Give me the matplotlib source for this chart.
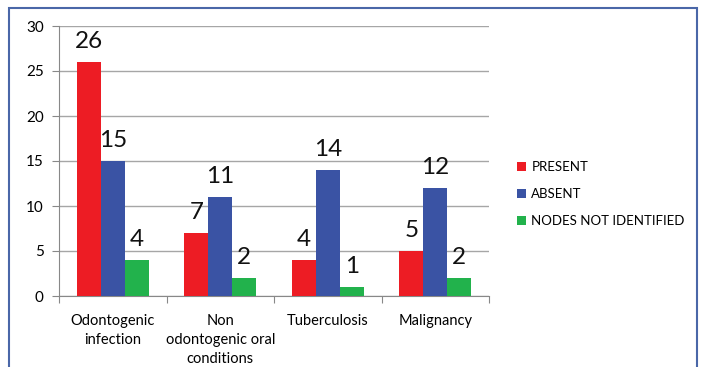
import numpy as np
import matplotlib.pyplot as plt
from matplotlib.patches import Rectangle

categories = ["Odontogenic\ninfection", "Non\nodontogenic oral\nconditions",
              "Tuberculosis", "Malignancy"]
present = [26, 7, 4, 5]
absent = [15, 11, 14, 12]
not_identified = [4, 2, 1, 2]

series = [("PRESENT", present, "#ED1C24"),
          ("ABSENT", absent, "#3A53A4"),
          ("NODES NOT IDENTIFIED", not_identified, "#22B24C")]

plt.rcParams['font.family'] = ['Lato', 'DejaVu Sans']

fig = plt.figure(figsize=(7.02, 3.67), dpi=100)
ax = fig.add_axes([59 / 702, 1 - 296 / 367, 430 / 702, 270 / 367])

x = np.arange(len(categories))
w = 0.223
for i, (name, vals, col) in enumerate(series):
    pos = x + (i - 1) * w
    bars = ax.bar(pos, vals, w, color=col, label=name, zorder=3)
    for b, v in zip(bars, vals):
        ax.annotate(str(v), (b.get_x() + b.get_width() / 2, v),
                    xytext=(0, 7), textcoords="offset points",
                    ha="center", va="bottom", fontsize=17.5, color="#111111")

ax.set_xlim(-0.5, len(categories) - 0.5)
ax.set_ylim(0, 30)
ax.set_yticks(range(0, 31, 5))
ax.yaxis.grid(True, color="#A6A6A6", linewidth=1, zorder=0)
ax.tick_params(axis="y", labelsize=11, color="#888888", length=5, pad=6)

ax.set_xticks(np.arange(-0.5, len(categories), 1))
ax.set_xticklabels([])
ax.set_xticks(x, minor=True)
ax.set_xticklabels(categories, minor=True, fontsize=10.5, linespacing=1.45)
ax.tick_params(axis="x", which="major", color="#888888", length=5)
ax.tick_params(axis="x", which="minor", length=0, pad=13)

for s in ["top", "right"]:
    ax.spines[s].set_visible(False)
for s in ["left", "bottom"]:
    ax.spines[s].set_color("#888888")

handles, labels = ax.get_legend_handles_labels()
fig.legend(handles, labels, loc="center left", bbox_to_anchor=(505 / 702, 1 - 194 / 367),
           frameon=False, fontsize=9.5, handlelength=0.7, handleheight=0.7,
           handletextpad=0.4, labelspacing=1.15)

fig.patches.append(Rectangle((9 / 702, -0.1), 688 / 702, 1.1 - 8 / 367,
                             transform=fig.transFigure, fill=False,
                             edgecolor="#4A67A8", linewidth=1.5))

fig.savefig("out.png", dpi=100)
